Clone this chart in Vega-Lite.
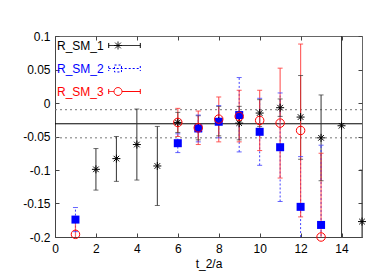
{
  "$schema": "https://vega.github.io/schema/vega-lite/v6.json",
  "autosize": "none",
  "width": 307,
  "height": 201,
  "padding": {"left": 55, "top": 36, "right": 20, "bottom": 36},
  "background": "white",
  "config": {
    "font": "Liberation Sans",
    "view": {"stroke": "#666", "strokeWidth": 1},
    "axis": {"labelFont": "Liberation Sans", "titleFont": "Liberation Sans", "labelFontSize": 12, "titleFontSize": 12, "titleFontWeight": "normal", "labelColor": "black", "titleColor": "black", "domainColor": "#444", "tickColor": "#444", "grid": false}
  },
  "data": {"values": [
    {"s": "R_SM_1", "t": 2, "v": -0.099, "lo": -0.130, "hi": -0.068},
    {"s": "R_SM_1", "t": 3, "v": -0.083, "lo": -0.117, "hi": -0.050},
    {"s": "R_SM_1", "t": 4, "v": -0.062, "lo": -0.115, "hi": -0.009},
    {"s": "R_SM_1", "t": 5, "v": -0.094, "lo": -0.153, "hi": -0.035},
    {"s": "R_SM_1", "t": 6, "v": -0.029, "lo": -0.044, "hi": -0.014},
    {"s": "R_SM_1", "t": 7, "v": -0.037, "lo": -0.055, "hi": -0.019},
    {"s": "R_SM_1", "t": 8, "v": -0.027, "lo": -0.049, "hi": -0.005},
    {"s": "R_SM_1", "t": 9, "v": -0.030, "lo": -0.055, "hi": -0.005},
    {"s": "R_SM_1", "t": 10, "v": -0.015, "lo": -0.035, "hi": 0.005},
    {"s": "R_SM_1", "t": 11, "v": -0.007, "lo": -0.020, "hi": 0.006},
    {"s": "R_SM_1", "t": 12, "v": -0.021, "lo": -0.084, "hi": 0.041},
    {"s": "R_SM_1", "t": 13, "v": -0.052, "lo": -0.116, "hi": 0.012},
    {"s": "R_SM_1", "t": 14, "v": -0.034, "lo": -0.300, "hi": 0.230},
    {"s": "R_SM_1", "t": 15, "v": -0.177, "lo": -0.250, "hi": -0.100},
    {"s": "R_SM_2", "t": 1, "v": -0.174, "lo": -0.192, "hi": -0.156},
    {"s": "R_SM_2", "t": 6, "v": -0.060, "lo": -0.074, "hi": -0.046},
    {"s": "R_SM_2", "t": 7, "v": -0.038, "lo": -0.058, "hi": -0.018},
    {"s": "R_SM_2", "t": 8, "v": -0.028, "lo": -0.052, "hi": -0.004},
    {"s": "R_SM_2", "t": 9, "v": -0.018, "lo": -0.073, "hi": 0.038},
    {"s": "R_SM_2", "t": 10, "v": -0.043, "lo": -0.093, "hi": 0.007},
    {"s": "R_SM_2", "t": 11, "v": -0.066, "lo": -0.147, "hi": 0.015},
    {"s": "R_SM_2", "t": 12, "v": -0.155, "lo": -0.230, "hi": -0.080},
    {"s": "R_SM_2", "t": 13, "v": -0.182, "lo": -0.300, "hi": -0.063},
    {"s": "R_SM_3", "t": 1, "v": -0.196, "lo": -0.218, "hi": -0.174},
    {"s": "R_SM_3", "t": 6, "v": -0.029, "lo": -0.050, "hi": -0.008},
    {"s": "R_SM_3", "t": 7, "v": -0.037, "lo": -0.062, "hi": -0.012},
    {"s": "R_SM_3", "t": 8, "v": -0.024, "lo": -0.058, "hi": 0.009},
    {"s": "R_SM_3", "t": 9, "v": -0.020, "lo": -0.058, "hi": 0.019},
    {"s": "R_SM_3", "t": 10, "v": -0.026, "lo": -0.071, "hi": 0.019},
    {"s": "R_SM_3", "t": 11, "v": -0.030, "lo": -0.112, "hi": 0.052},
    {"s": "R_SM_3", "t": 12, "v": -0.041, "lo": -0.170, "hi": 0.088},
    {"s": "R_SM_3", "t": 13, "v": -0.200, "lo": -0.325, "hi": -0.075}
  ]},
  "resolve": {"axis": {"x": "independent", "y": "independent"}},
  "layer": [
    {
      "data": {"values": [{"y": -0.010}, {"y": -0.052}]},
      "mark": {"type": "rule", "color": "#777", "strokeDash": [2, 3], "strokeWidth": 1},
      "encoding": {"y": {"field": "y", "type": "quantitative", "axis": null, "scale": {"domain": [-0.2, 0.1], "nice": false, "zero": false}}}
    },
    {
      "data": {"values": [{"y": -0.031}]},
      "mark": {"type": "rule", "color": "black", "strokeWidth": 1},
      "encoding": {"y": {"field": "y", "type": "quantitative", "axis": null}}
    },
    {
      "transform": [{"filter": "datum.s === 'R_SM_1'"}],
      "mark": {"type": "rule", "clip": true, "strokeWidth": 1, "color": "#333"},
      "encoding": {
        "x": {"field": "t", "type": "quantitative", "scale": {"domain": [0, 15], "nice": false, "zero": false},
              "axis": {"orient": "bottom", "values": [0, 2, 4, 6, 8, 10, 12, 14], "tickSize": -4, "labelPadding": 10, "title": "t_2/a", "titlePadding": 4, "labelFlush": false}},
        "y": {"field": "lo", "type": "quantitative",
              "axis": {"orient": "left", "values": [-0.2, -0.15, -0.1, -0.05, 0, 0.05, 0.1], "tickSize": -4, "labelPadding": 9, "labelExpr": "'' + datum.value", "title": null}},
        "y2": {"field": "hi"}
      }
    },
    {
      "transform": [{"filter": "datum.s === 'R_SM_2'"}],
      "mark": {"type": "rule", "clip": true, "strokeWidth": 1, "color": "#4040ff", "strokeDash": [2, 2]},
      "encoding": {
        "x": {"field": "t", "type": "quantitative", "axis": null},
        "y": {"field": "lo", "type": "quantitative", "axis": null},
        "y2": {"field": "hi"}
      }
    },
    {
      "transform": [{"filter": "datum.s === 'R_SM_3'"}],
      "mark": {"type": "rule", "clip": true, "strokeWidth": 1.2, "color": "#ff3333", "opacity": 0.75},
      "encoding": {
        "x": {"field": "t", "type": "quantitative", "axis": null},
        "y": {"field": "lo", "type": "quantitative", "axis": null},
        "y2": {"field": "hi"}
      }
    },
    {
      "transform": [{"filter": "datum.s === 'R_SM_1'"}, {"fold": ["lo", "hi"], "as": ["end", "ev"]}],
      "mark": {"type": "point", "clip": true, "shape": "stroke", "size": 25, "filled": false, "strokeWidth": 1, "color": "#333"},
      "encoding": {
        "x": {"field": "t", "type": "quantitative", "axis": null},
        "y": {"field": "ev", "type": "quantitative", "axis": null}
      }
    },
    {
      "transform": [{"filter": "datum.s === 'R_SM_2'"}, {"fold": ["lo", "hi"], "as": ["end", "ev"]}],
      "mark": {"type": "point", "clip": true, "shape": "stroke", "size": 25, "filled": false, "strokeWidth": 1, "color": "#4040ff", "opacity": 0.8},
      "encoding": {
        "x": {"field": "t", "type": "quantitative", "axis": null},
        "y": {"field": "ev", "type": "quantitative", "axis": null}
      }
    },
    {
      "transform": [{"filter": "datum.s === 'R_SM_3'"}, {"fold": ["lo", "hi"], "as": ["end", "ev"]}],
      "mark": {"type": "point", "clip": true, "shape": "stroke", "size": 25, "filled": false, "strokeWidth": 1, "color": "#ff3333", "opacity": 0.8},
      "encoding": {
        "x": {"field": "t", "type": "quantitative", "axis": null},
        "y": {"field": "ev", "type": "quantitative", "axis": null}
      }
    },
    {
      "transform": [{"filter": "datum.s === 'R_SM_1'"}],
      "mark": {"type": "point", "size": 64, "strokeWidth": 1, "filled": false, "color": "black", "opacity": 1, "shape": "M-1,0L1,0M0,-1L0,1M-0.7,-0.7L0.7,0.7M-0.7,0.7L0.7,-0.7"},
      "encoding": {
        "x": {"field": "t", "type": "quantitative", "axis": null},
        "y": {"field": "v", "type": "quantitative", "axis": null}
      }
    },
    {
      "transform": [{"filter": "datum.s === 'R_SM_2'"}],
      "mark": {"type": "point", "size": 64, "strokeWidth": 0, "filled": true, "color": "blue", "opacity": 1, "shape": "square"},
      "encoding": {
        "x": {"field": "t", "type": "quantitative", "axis": null},
        "y": {"field": "v", "type": "quantitative", "axis": null}
      }
    },
    {
      "transform": [{"filter": "datum.s === 'R_SM_3'"}],
      "mark": {"type": "point", "size": 72, "strokeWidth": 1, "filled": false, "color": "red", "opacity": 1, "shape": "circle"},
      "encoding": {
        "x": {"field": "t", "type": "quantitative", "axis": null},
        "y": {"field": "v", "type": "quantitative", "axis": null}
      }
    },
    {
      "mark": {"type": "point", "size": 1, "opacity": 0, "filled": false},
      "encoding": {
        "x": {"field": "t", "type": "quantitative",
              "axis": {"orient": "top", "values": [0, 2, 4, 6, 8, 10, 12, 14], "tickSize": -4, "labels": false, "title": null, "domain": false}},
        "y": {"field": "v", "type": "quantitative",
              "axis": {"orient": "right", "values": [-0.2, -0.15, -0.1, -0.05, 0, 0.05, 0.1], "tickSize": -4, "labels": false, "title": null, "domain": false}},
        "stroke": {"field": "s", "type": "nominal", "scale": {"domain": ["R_SM_1", "R_SM_2", "R_SM_3"], "range": ["black", "blue", "red"]},
          "legend": {
            "orient": "none", "legendX": 2, "legendY": -7, "title": null,
            "labelFont": "Liberation Sans", "labelFontSize": 12, "rowPadding": -11,
            "symbolSize": 1000, "symbolStrokeWidth": 1, "symbolOpacity": 1,
            "symbolOffset": 51, "labelOffset": -84,
            "labelColor": {"expr": "datum.value === 'R_SM_1' ? 'black' : datum.value === 'R_SM_2' ? 'blue' : 'red'"},
            "symbolType": {"expr": "datum.value === 'R_SM_1' ? 'M-1,0L1,0M-1,-0.16L-1,0.16M1,-0.16L1,0.16M-0.66,0L-0.16,0M-0.41,-0.25L-0.41,0.25M-0.59,-0.18L-0.23,0.18M-0.59,0.18L-0.23,-0.18' : datum.value === 'R_SM_2' ? 'M-1,0L1,0M-1,-0.16L-1,0.16M1,-0.16L1,0.16M-0.63,-0.22L-0.19,-0.22L-0.19,0.22L-0.63,0.22Z' : 'M-1,0L-0.66,0M-0.16,0L1,0M-1,-0.16L-1,0.16M1,-0.16L1,0.16M-0.16,0A0.25,0.25 0 1 1 -0.66,0A0.25,0.25 0 1 1 -0.16,0Z'"},
            "symbolFillColor": {"expr": "datum.value === 'R_SM_2' ? 'blue' : 'transparent'"},
            "symbolDash": {"expr": "datum.value === 'R_SM_2' ? [2,2] : [1,0]"}
          }}
      }
    }
  ]
}
